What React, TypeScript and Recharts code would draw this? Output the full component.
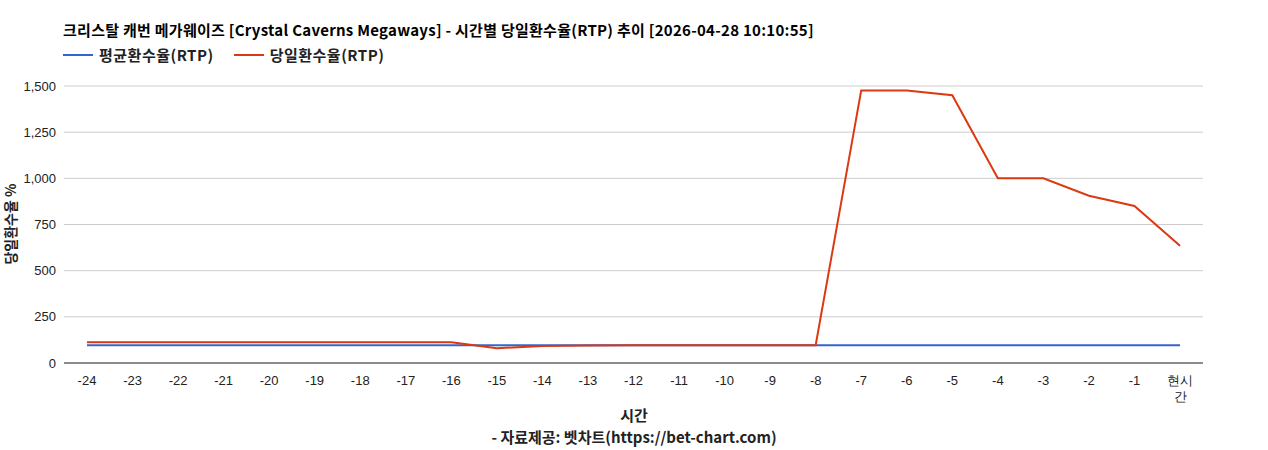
import React from "react";
import { LineChart, CartesianGrid, XAxis, YAxis, Line } from "recharts";

const hours = [
  "-24", "-23", "-22", "-21", "-20", "-19", "-18", "-17", "-16", "-15", "-14", "-13",
  "-12", "-11", "-10", "-9", "-8", "-7", "-6", "-5", "-4", "-3", "-2", "-1", "현시간",
];
const avgRtp = [
  96, 96, 96, 96, 96, 96, 96, 96, 96, 96, 96, 96,
  96, 96, 96, 96, 96, 96, 96, 96, 96, 96, 96, 96, 96,
];
const dayRtp = [
  112, 112, 112, 112, 112, 112, 112, 112, 112, 80, 92, 95,
  96, 96, 96, 96, 96, 1476, 1476, 1450, 1000, 1000, 906, 850, 635,
];
const yTicks = [0, 250, 500, 750, 1000, 1250, 1500];

const data = hours.map((h, i) => ({ hour: h, avg: avgRtp[i], day: dayRtp[i] }));

const FONT_KR = "'Noto Sans CJK KR', 'Noto Sans', sans-serif";
const FONT_TICK = "'Liberation Sans', Arial, sans-serif";

const HourTick = (props: any) => {
  const { x, y, payload } = props;
  const v: string = payload.value;
  // 현시간 wraps onto two lines like the original
  const lines = v === "현시간" ? ["현시", "간"] : [v];
  return (
    <text x={x} y={y} textAnchor="middle" fontSize={13} fill="#222" fontFamily={FONT_TICK}>
      {lines.map((l, i) => (
        <tspan key={i} x={x} dy={i === 0 ? 14 : 16}>
          {l}
        </tspan>
      ))}
    </text>
  );
};

const fmt = (v: number) => v.toLocaleString("en-US");

const boldText: React.CSSProperties = {
  position: "absolute",
  fontFamily: FONT_KR,
  fontWeight: 700,
  fontSize: 15,
  color: "#222",
  whiteSpace: "nowrap",
  lineHeight: "20px",
};

export default function App() {
  return (
    <div style={{ position: "absolute", left: 0, top: 0, width: 1268, height: 450, background: "#fff" }}>
      <div style={{ ...boldText, left: 63, top: 20, color: "#000", letterSpacing: 0.27 }}>
        크리스탈 캐번 메가웨이즈 [Crystal Caverns Megaways] - 시간별 당일환수율(RTP) 추이 [2026-04-28 10:10:55]
      </div>
      <div style={{ ...boldText, left: 63, top: 45, display: "flex", alignItems: "center", letterSpacing: 0.5 }}>
        <span style={{ display: "inline-block", width: 30, height: 2, background: "#3366cc", marginRight: 6 }} />
        <span style={{ marginRight: 20 }}>평균환수율(RTP)</span>
        <span style={{ display: "inline-block", width: 30, height: 2, background: "#dc3912", marginRight: 6 }} />
        <span>당일환수율(RTP)</span>
      </div>
      <div
        style={{
          ...boldText, fontSize: 14, left: 10, top: 224,
          transform: "translate(-50%, -50%) rotate(-90deg)",
        }}
      >
        당일환수율 %
      </div>
      <div style={{ ...boldText, left: 0, width: 1268, top: 405, textAlign: "center" }}>시간</div>
      <div style={{ ...boldText, left: 0, width: 1268, top: 427, textAlign: "center" }}>
        - 자료제공: 벳차트(https://bet-chart.com)
      </div>
      <div style={{ position: "absolute", left: 0, top: 0 }}>
        <LineChart
          width={1268}
          height={450}
          data={data}
          margin={{ top: 86, right: 65, left: 0, bottom: 0 }}
        >
          <CartesianGrid vertical={false} stroke="#cccccc" strokeWidth={1} />
          <XAxis
            dataKey="hour"
            interval={0}
            height={87}
            padding={{ left: 23, right: 23 }}
            tickLine={false}
            axisLine={{ stroke: "#333", strokeWidth: 1 }}
            tick={<HourTick />}
          />
          <YAxis
            width={64}
            domain={[0, 1500]}
            ticks={yTicks}
            axisLine={false}
            tickLine={false}
            tickFormatter={fmt}
            tick={{ fontSize: 13, fill: "#222", fontFamily: FONT_TICK }}
          />
          <Line
            type="linear"
            dataKey="avg"
            stroke="#3366cc"
            strokeWidth={2}
            dot={false}
            isAnimationActive={false}
          />
          <Line
            type="linear"
            dataKey="day"
            stroke="#dc3912"
            strokeWidth={2}
            dot={false}
            isAnimationActive={false}
          />
        </LineChart>
      </div>
    </div>
  );
}
